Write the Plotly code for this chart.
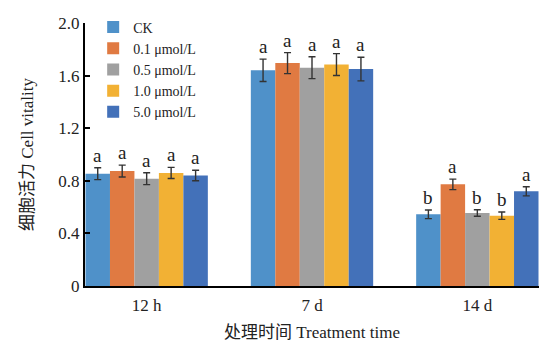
import plotly.graph_objects as go

categories = ["12 h", "7 d", "14 d"]
series_names = ["CK", "0.1 μmol/L", "0.5 μmol/L", "1.0 μmol/L", "5.0 μmol/L"]
colors = ["#4F91C9", "#E07A42", "#A0A0A0", "#F2B134", "#4371B9"]
values = [
    [0.854, 1.640, 0.545],
    [0.874, 1.695, 0.773],
    [0.816, 1.660, 0.555],
    [0.860, 1.684, 0.535],
    [0.840, 1.650, 0.720],
]
errors = [
    [0.045, 0.085, 0.033],
    [0.045, 0.080, 0.040],
    [0.045, 0.083, 0.025],
    [0.042, 0.083, 0.028],
    [0.040, 0.090, 0.035],
]
letters = [
    ["a", "a", "b"],
    ["a", "a", "a"],
    ["a", "a", "b"],
    ["a", "a", "b"],
    ["a", "a", "a"],
]
y_ticks = [0, 0.4, 0.8, 1.2, 1.6, 2.0]
y_ticklabels = ["0", "0.4", "0.8", "1.2", "1.6", "2.0"]

FONT = "Liberation Serif, Noto Sans CJK SC, serif"
bargap = 0.26
bw = (1 - bargap) / len(series_names)

fig = go.Figure()
for i, name in enumerate(series_names):
    fig.add_trace(go.Bar(
        x=categories, y=values[i], name=name,
        marker=dict(color=colors[i], line=dict(width=0)),
        error_y=dict(type="data", array=errors[i], color="#333333", thickness=1.4, width=3.5),
    ))

annotations = []
for i in range(len(series_names)):
    for j in range(len(categories)):
        annotations.append(dict(
            x=j + (i - 2) * bw, y=values[i][j] + errors[i][j], xref="x", yref="y",
            text=letters[i][j], showarrow=False, yanchor="bottom", yshift=0,
            font=dict(family=FONT, size=19, color="#222222"),
        ))

fig.update_layout(
    width=552, height=345,
    margin=dict(l=85, r=13, t=22, b=59),
    paper_bgcolor="white", plot_bgcolor="white",
    barmode="group", bargap=bargap, bargroupgap=0,
    font=dict(family=FONT, size=17, color="#222222"),
    showlegend=True,
    legend=dict(x=0.018, y=1.04, xanchor="left", yanchor="top",
                bgcolor="rgba(0,0,0,0)", font=dict(family=FONT, size=14, color="#222222"),
                itemwidth=30, tracegroupgap=0),
    annotations=annotations,
)
fig.update_xaxes(
    range=[-0.373, 2.373], showline=True, linecolor="black", linewidth=2,
    ticks="", showgrid=False, tickfont=dict(size=17), ticklabelstandoff=3,
    automargin=False,
    title=dict(text="处理时间 Treatment time", font=dict(size=17), standoff=12),
)
fig.update_yaxes(
    range=[0, 2.0], tickvals=y_ticks, ticktext=y_ticklabels,
    showline=True, linecolor="black", linewidth=2,
    ticks="inside", ticklen=5, tickwidth=1.5, tickcolor="black",
    showgrid=False, zeroline=False, tickfont=dict(size=17),
    automargin=False,
    title=dict(text="细胞活力 Cell vitality", font=dict(size=17), standoff=20),
)
fig.write_html("out.html")
